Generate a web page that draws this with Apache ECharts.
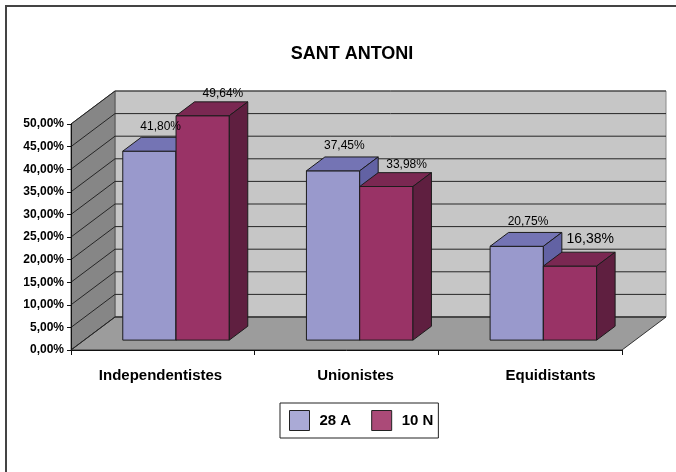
<!DOCTYPE html>
<html>
<head>
<meta charset="utf-8">
<script src="https://cdn.jsdelivr.net/npm/echarts@6/dist/echarts.min.js"></script>
<style>
  html, body { margin: 0; padding: 0; background: #fff; }
  #main { width: 676px; height: 472px; }
</style>
</head>
<body>
<div id="main"></div>
<script>
var categories = ['Independentistes', 'Unionistes', 'Equidistants'];
var seriesNames = ['28 A', '10 N'];
var values28A = [41.80, 37.45, 20.75];
var values10N = [49.64, 33.98, 16.38];
var yTicks = [0, 5, 10, 15, 20, 25, 30, 35, 40, 45, 50];

// offset of the back wall from the front plane (fake 3d depth)
var DX = 44, DY = -33;
// bars sit between these depth fractions
var BAR_Z0 = 0.3, BAR_Z1 = 0.72;

var FONT = '"Liberation Sans", Arial, Helvetica, sans-serif';

var colors = [
  { front: '#9999cc', top: '#7474b4', side: '#6262a4', legend: '#aaaad6' },
  { front: '#993366', top: '#7a2852', side: '#5f1f40', legend: '#ab4a78' }
];
// label offsets from the centre of the bar top
var labelOffset = [[2, -18], [11, -15]];
// the last label of '10 N' is drawn bigger in the original
var bigLabel = { series: 1, index: 2, fontSize: 14, dy: -20 };

function fmt(v) {
  return v.toFixed(2).replace('.', ',') + '%';
}

function renderWalls(params, api) {
  var cs = params.coordSys;
  var x0 = cs.x, x1 = cs.x + cs.width;
  var yTop = api.coord([0, yTicks[yTicks.length - 1]])[1];
  var yBot = api.coord([0, 0])[1];
  var kids = [];
  // back wall
  kids.push({
    type: 'polygon',
    shape: { points: [[x0 + DX, yTop + DY], [x1 + DX, yTop + DY], [x1 + DX, yBot + DY], [x0 + DX, yBot + DY]] },
    style: { fill: '#c6c6c6', stroke: '#8a8a8a', lineWidth: 1 }
  });
  // left wall
  kids.push({
    type: 'polygon',
    shape: { points: [[x0, yTop], [x0 + DX, yTop + DY], [x0 + DX, yBot + DY], [x0, yBot]] },
    style: { fill: '#868686', stroke: '#555', lineWidth: 1 }
  });
  // floor
  kids.push({
    type: 'polygon',
    shape: { points: [[x0, yBot], [x1, yBot], [x1 + DX, yBot + DY], [x0 + DX, yBot + DY]] },
    style: { fill: '#9c9c9c', stroke: '#333', lineWidth: 1 }
  });
  yTicks.forEach(function (t) {
    var y = api.coord([0, t])[1];
    kids.push({ type: 'line', shape: { x1: x0 + DX, y1: y + DY, x2: x1 + DX, y2: y + DY },
      style: { stroke: '#262626', lineWidth: 1 } });
    kids.push({ type: 'line', shape: { x1: x0, y1: y, x2: x0 + DX, y2: y + DY },
      style: { stroke: '#262626', lineWidth: 1 } });
  });
  return { type: 'group', children: kids };
}

function barRenderer(s) {
  return function (params, api) {
    var i = api.value(0), v = api.value(1);
    var base = api.coord([i, 0]);
    var top = api.coord([i, v]);
    var bw = api.size([1, 0])[0] * 0.29;
    var fx0 = base[0] + BAR_Z0 * DX + (s === 0 ? -bw : 0);
    var fx1 = fx0 + bw;
    var fb = base[1] + BAR_Z0 * DY;
    var ft = top[1] + BAR_Z0 * DY;
    var ddx = (BAR_Z1 - BAR_Z0) * DX, ddy = (BAR_Z1 - BAR_Z0) * DY;
    var c = colors[s];
    var edge = { stroke: '#1c1c1c', lineWidth: 1, lineJoin: 'round' };

    var fs = 12, off = labelOffset[s];
    var dy = off[1];
    if (bigLabel.series === s && bigLabel.index === params.dataIndex) {
      fs = bigLabel.fontSize;
      dy = bigLabel.dy;
    }
    return {
      type: 'group',
      children: [
        { type: 'polygon', shape: { points: [[fx0, ft], [fx1, ft], [fx1, fb], [fx0, fb]] },
          style: Object.assign({ fill: c.front }, edge) },
        { type: 'polygon', shape: { points: [[fx0, ft], [fx1, ft], [fx1 + ddx, ft + ddy], [fx0 + ddx, ft + ddy]] },
          style: Object.assign({ fill: c.top }, edge) },
        { type: 'polygon', shape: { points: [[fx1, ft], [fx1 + ddx, ft + ddy], [fx1 + ddx, fb + ddy], [fx1, fb]] },
          style: Object.assign({ fill: c.side }, edge) },
        { type: 'text', z2: 100,
          x: (fx0 + fx1) / 2 + ddx / 2 + off[0],
          y: ft + ddy / 2 + dy,
          style: { text: fmt(v), fill: '#000', fontSize: fs, fontFamily: FONT,
            align: 'center', verticalAlign: 'middle' } }
      ]
    };
  };
}

var chart = echarts.init(document.getElementById('main'));

chart.setOption({
  backgroundColor: '#fff',
  animation: false,
  title: {
    text: 'SANT ANTONI',
    left: 347,
    top: 40,
    textAlign: 'center',
    textStyle: { fontFamily: FONT, fontSize: 18, fontWeight: 'bold', color: '#000' }
  },
  legend: {
    data: [
      { name: seriesNames[0], itemStyle: { color: colors[0].legend, borderColor: '#222', borderWidth: 1 } },
      { name: seriesNames[1], itemStyle: { color: colors[1].legend, borderColor: '#222', borderWidth: 1 } }
    ],
    left: 280,
    top: 403,
    icon: 'rect',
    itemWidth: 20,
    itemHeight: 20,
    itemGap: 20,
    padding: [7, 5, 7, 9],
    borderColor: '#222',
    borderWidth: 1,
    selectedMode: false,
    textStyle: { fontFamily: FONT, fontSize: 15, fontWeight: 'bold', color: '#000', padding: [0, 0, 0, 5] }
  },
  graphic: [{
    type: 'rect',
    shape: { x: 6, y: 6, width: 800, height: 800 },
    style: { fill: 'none', stroke: '#444', lineWidth: 2 },
    silent: true
  }],
  grid: [
    { left: 71, top: 124, width: 551, height: 226 },
    { left: 63, top: 124, width: 585, height: 226 }
  ],
  xAxis: [{
    type: 'category',
    gridIndex: 0,
    data: categories,
    z: 5,
    axisLine: { show: true, lineStyle: { color: '#111', width: 1 } },
    axisTick: { show: true, length: 5, lineStyle: { color: '#111' } },
    axisLabel: { show: false }
  }, {
    type: 'category',
    gridIndex: 1,
    data: categories,
    axisLine: { show: false },
    axisTick: { show: false },
    axisLabel: { margin: 18, fontFamily: FONT, fontSize: 15, fontWeight: 'bold', color: '#000' }
  }],
  yAxis: [{
    type: 'value',
    gridIndex: 0,
    min: 0,
    max: 50,
    interval: 5,
    z: 5,
    axisLine: { show: true, lineStyle: { color: '#111', width: 1 } },
    axisTick: { show: true, length: 4, lineStyle: { color: '#111' } },
    splitLine: { show: false },
    axisLabel: {
      margin: 7,
      fontFamily: FONT, fontSize: 12, fontWeight: 'bold', color: '#000',
      formatter: function (v) { return fmt(v); }
    }
  }, {
    type: 'value',
    gridIndex: 1,
    min: 0,
    max: 1,
    show: false
  }],
  series: [{
    name: 'walls',
    type: 'custom',
    z: 1,
    silent: true,
    xAxisIndex: 0,
    yAxisIndex: 0,
    renderItem: renderWalls,
    data: [[0, 0]]
  }, {
    name: seriesNames[0],
    type: 'custom',
    z: 2,
    xAxisIndex: 0,
    yAxisIndex: 0,
    itemStyle: { color: colors[0].legend },
    renderItem: barRenderer(0),
    encode: { x: 0, y: 1 },
    data: values28A.map(function (v, i) { return [i, v]; })
  }, {
    name: seriesNames[1],
    type: 'custom',
    z: 2,
    xAxisIndex: 0,
    yAxisIndex: 0,
    itemStyle: { color: colors[1].legend },
    renderItem: barRenderer(1),
    encode: { x: 0, y: 1 },
    data: values10N.map(function (v, i) { return [i, v]; })
  }]
});
</script>
</body>
</html>
